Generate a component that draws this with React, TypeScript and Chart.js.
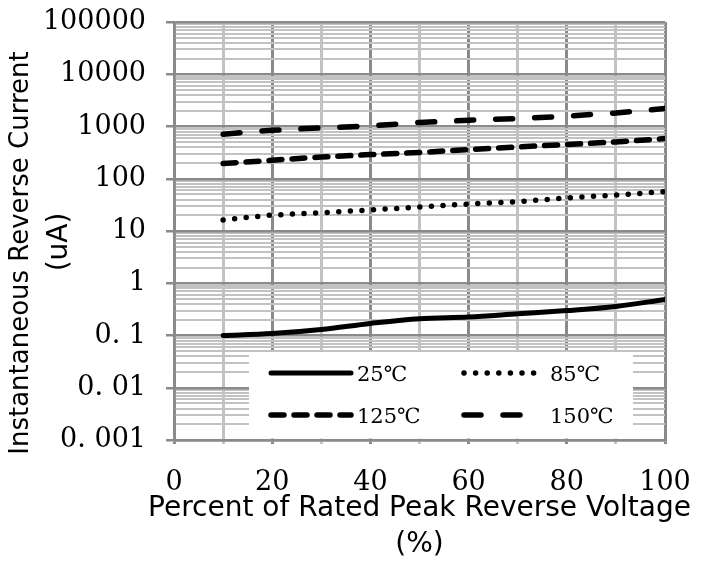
import React, { useEffect, useRef } from "react";
import { Chart, registerables } from "chart.js";

Chart.register(...registerables);

// ---- data ----
const voltagePct = [10, 20, 30, 40, 50, 60, 70, 80, 90, 100];
const current25C = [0.1, 0.109, 0.13, 0.17, 0.21, 0.225, 0.26, 0.3, 0.36, 0.49];
const current85C = [16.3, 20.2, 22.4, 25.2, 28.8, 32.9, 36.4, 42.8, 48.9, 56.5];
const current125C = [195, 226, 261, 290, 318, 362, 406, 452, 506, 587];
const current150C = [713, 849, 940, 1027, 1193, 1320, 1423, 1575, 1820, 2213];
const seriesLabels = ["25℃", "85℃", "125℃", "150℃"];
const yTickLabels = ["0. 001", "0. 01", "0. 1", "1", "10", "100", "1000", "10000", "100000"];
const xTickLabels = ["0", "20", "40", "60", "80", "100"];
const yTitleLines = ["Instantaneous Reverse Current", "(uA)"];
const xTitleLines = ["Percent of Rated Peak Reverse Voltage", "(%)"];

const DARK = "#8a8a8a";
const LIGHT = "#c2c2c2";

const isPow10 = (v: number) => Math.abs(Math.log10(v) - Math.round(Math.log10(v))) < 1e-6;

const legendBox = {
  id: "legendBox",
  afterDatasetsDraw(chart: any) {
    const { ctx, chartArea: a } = chart;
    const left = a.left + 75;
    const right = a.right - 32;
    const top = a.bottom - 88;
    const bottom = a.bottom - 1.5;
    ctx.save();
    ctx.fillStyle = "#ffffff";
    ctx.fillRect(left, top, right - left, bottom - top);
    chart.data.datasets.forEach((ds: any, i: number) => {
      const col = i % 2;
      const row = Math.floor(i / 2);
      const x0 = left + 22 + col * 193;
      const y = top + 21 + row * 42;
      const len = col === 0 ? 80 : 72;
      ctx.beginPath();
      ctx.strokeStyle = ds.borderColor;
      ctx.lineWidth = ds.borderWidth;
      ctx.lineCap = ds.borderCapStyle || "butt";
      ctx.setLineDash(ds.borderDash || []);
      ctx.moveTo(x0, y);
      ctx.lineTo(x0 + len, y);
      ctx.stroke();
      ctx.setLineDash([]);
      ctx.fillStyle = "#000";
      ctx.font = "21px 'DejaVu Serif'";
      ctx.textBaseline = "middle";
      ctx.textAlign = "left";
      ctx.fillText(ds.label, x0 + len + (col === 0 ? 6 : 14), y + 3);
    });
    ctx.restore();
  },
};

// axis titles drawn around the plot area
const axisTitles = {
  id: "axisTitles",
  afterDraw(chart: any) {
    const { ctx, chartArea: a } = chart;
    const cy = (a.top + a.bottom) / 2;
    const cx = (a.left + a.right) / 2;
    ctx.save();
    ctx.fillStyle = "#000";
    ctx.textAlign = "center";
    ctx.textBaseline = "middle";
    // y title
    ctx.save();
    ctx.font = "26px 'DejaVu Sans'";
    ctx.translate(21, cy + 22);
    ctx.rotate(-Math.PI / 2);
    ctx.fillText(yTitleLines[0], 0, 0);
    ctx.restore();
    ctx.save();
    ctx.font = "28px 'DejaVu Sans'";
    ctx.translate(60, cy + 11);
    ctx.rotate(-Math.PI / 2);
    ctx.fillText(yTitleLines[1], 0, 0);
    ctx.restore();
    // x title
    ctx.font = "28px 'DejaVu Sans'";
    ctx.fillText(xTitleLines[0], cx, a.bottom + 69);
    ctx.fillText(xTitleLines[1], cx, a.bottom + 105);
    ctx.restore();
  },
};

export default function App() {
  const ref = useRef<HTMLCanvasElement | null>(null);
  useEffect(() => {
    if (!ref.current) return;
    const mk = (v: number[]) => voltagePct.map((x, i) => ({ x, y: v[i] }));
    const chart = new Chart(ref.current, {
      type: "line",
      data: {
        datasets: [
          {
            label: seriesLabels[0],
            data: mk(current25C),
            borderColor: "#000",
            borderWidth: 5,
            borderCapStyle: "round",
            pointRadius: 0,
            cubicInterpolationMode: "monotone",
          },
          {
            label: seriesLabels[1],
            data: mk(current85C),
            borderColor: "#000",
            borderWidth: 5.5,
            borderCapStyle: "round",
            borderDash: [0, 11.6],
            pointRadius: 0,
          },
          {
            label: seriesLabels[2],
            data: mk(current125C),
            borderColor: "#000",
            borderWidth: 5.5,
            borderCapStyle: "round",
            borderDash: [13, 10],
            pointRadius: 0,
          },
          {
            label: seriesLabels[3],
            data: mk(current150C),
            borderColor: "#000",
            borderWidth: 5.5,
            borderCapStyle: "round",
            borderDash: [17, 22],
            pointRadius: 0,
          },
        ] as any,
      },
      options: {
        animation: false,
        responsive: false,
        layout: { padding: { left: 0, top: 22, right: 39, bottom: 0 } },
        plugins: { legend: { display: false }, tooltip: { enabled: false } },
        scales: {
          x: {
            type: "linear",
            min: 0,
            max: 100,
            afterFit: (s: any) => {
              s.height = 123;
              s.paddingLeft = 0;
              s.paddingRight = 0;
            },
            afterBuildTicks: (s: any) => {
              const t = [];
              for (let v = 0; v <= 100; v += 10) t.push({ value: v });
              s.ticks = t;
            },
            ticks: {
              autoSkip: false,
              maxRotation: 0,
              color: "#000",
              padding: 23,
              font: { family: "'DejaVu Serif'", size: 27 },
              callback: (v: any) => (v % 20 === 0 ? xTickLabels[v / 20] : ""),
            },
            grid: {
              color: (c: any) => (c.tick && c.tick.value % 20 === 0 ? DARK : LIGHT),
              lineWidth: 3,
              tickLength: 4,
              tickColor: (c: any) => (c.tick && c.tick.value % 20 === 0 ? DARK : LIGHT),
            },
            border: { color: DARK, width: 2.5 },
            title: { display: false },
          },
          y: {
            type: "logarithmic",
            min: 0.001,
            max: 100000,
            afterFit: (s: any) => {
              s.width = 174;
              s.paddingTop = 0;
              s.paddingBottom = 0;
            },
            afterBuildTicks: (s: any) => {
              const t = [];
              for (let e = -3; e <= 4; e++) {
                for (let m = 1; m <= 9; m++) {
                  const v = parseFloat((m * Math.pow(10, e)).toPrecision(6));
                  t.push({ value: v, major: m === 1 });
                }
              }
              t.push({ value: 100000, major: true });
              s.ticks = t;
            },
            ticks: {
              autoSkip: false,
              color: "#000",
              padding: 20,
              font: { family: "'DejaVu Serif'", size: 27 },
              callback: (v: any) =>
                isPow10(Number(v)) ? yTickLabels[Math.round(Math.log10(Number(v))) + 3] : "",
            },
            grid: {
              color: (c: any) => (c.tick && isPow10(c.tick.value) ? DARK : LIGHT),
              lineWidth: (c: any) => (c.tick && isPow10(c.tick.value) ? 2.5 : 2),
              tickLength: 8,
              tickColor: (c: any) => (c.tick && isPow10(c.tick.value) ? DARK : "rgba(0,0,0,0)"),
            },
            border: { color: DARK, width: 2.5 },
            title: { display: false },
          },
        },
      } as any,
      plugins: [legendBox, axisTitles],
    });
    return () => chart.destroy();
  }, []);
  return (
    <div style={{ position: "fixed", left: 0, top: 0, width: 704, height: 563, background: "#fff" }}>
      <canvas ref={ref} width={704} height={563} />
    </div>
  );
}
